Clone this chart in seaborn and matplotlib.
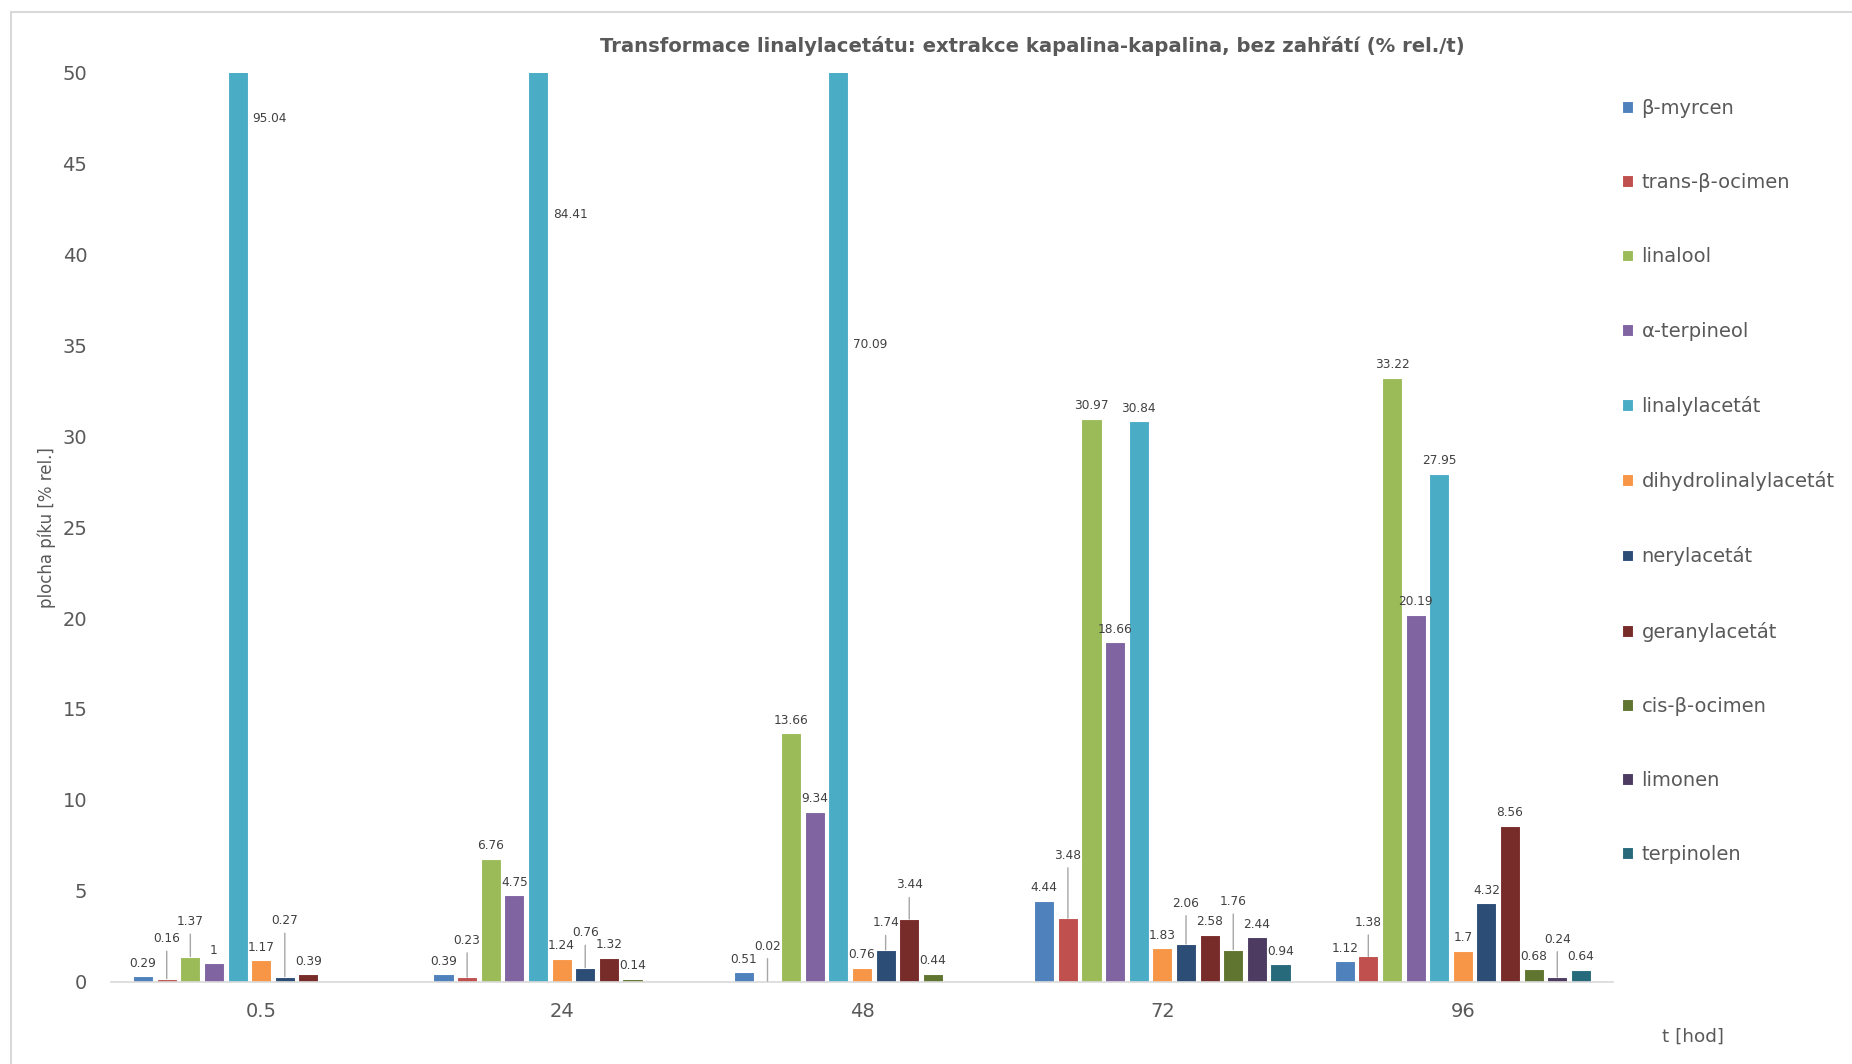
import numpy as np
import pandas as pd
import matplotlib
matplotlib.use("Agg")
import matplotlib.pyplot as plt
from matplotlib.patches import Rectangle
import seaborn as sns

# --- data -------------------------------------------------------------
times = ["0.5", "24", "48", "72", "96"]
compounds = ["β-myrcen", "trans-β-ocimen", "linalool", "α-terpineol", "linalylacetát",
             "dihydrolinalylacetát", "nerylacetát", "geranylacetát", "cis-β-ocimen",
             "limonen", "terpinolen"]

beta_myrcen = [0.29, 0.39, 0.51, 4.44, 1.12]
trans_beta_ocimen = [0.16, 0.23, 0.02, 3.48, 1.38]
linalool = [1.37, 6.76, 13.66, 30.97, 33.22]
alpha_terpineol = [1, 4.75, 9.34, 18.66, 20.19]
linalylacetat = [95.04, 84.41, 70.09, 30.84, 27.95]
dihydrolinalylacetat = [1.17, 1.24, 0.76, 1.83, 1.7]
nerylacetat = [0.27, 0.76, 1.74, 2.06, 4.32]
geranylacetat = [0.39, 1.32, 3.44, 2.58, 8.56]
cis_beta_ocimen = [np.nan, 0.14, 0.44, 1.76, 0.68]
limonen = [np.nan, np.nan, np.nan, 2.44, 0.24]
terpinolen = [np.nan, np.nan, np.nan, 0.94, 0.64]

series = [beta_myrcen, trans_beta_ocimen, linalool, alpha_terpineol, linalylacetat,
          dihydrolinalylacetat, nerylacetat, geranylacetat, cis_beta_ocimen,
          limonen, terpinolen]

colors = ["#4F81BD", "#C0504D", "#9BBB59", "#8064A2", "#4BACC6", "#F79646",
          "#2C4D75", "#772C2A", "#5F7530", "#4D3B62", "#276A7C"]

rows = []
for name, vals in zip(compounds, series):
    for t, v in zip(times, vals):
        if not np.isnan(v):
            rows.append({"t": t, "látka": name, "plocha": v})
df = pd.DataFrame(rows)

# labels lifted above crowded bars with a leader line (pixels above bar top)
leader_lift = {
    ("0.5", "trans-β-ocimen"): 40, ("0.5", "linalool"): 35, ("0.5", "nerylacetát"): 56,
    ("24", "trans-β-ocimen"): 37, ("24", "nerylacetát"): 35,
    ("48", "trans-β-ocimen"): 35, ("48", "nerylacetát"): 27, ("48", "geranylacetát"): 34,
    ("72", "trans-β-ocimen"): 63, ("72", "nerylacetát"): 41, ("72", "cis-β-ocimen"): 48,
    ("96", "trans-β-ocimen"): 34, ("96", "limonen"): 38,
}

# --- figure -----------------------------------------------------------
sns.set_style("white")
plt.rcParams["font.family"] = ["DejaVu Sans"]
DPI = 100
W, H = 1852, 1064
fig = plt.figure(figsize=(W / DPI, H / DPI), dpi=DPI)
ax = fig.add_axes([111 / W, 1 - 981.5 / H, (1613 - 111) / W, (981.5 - 73) / H])

sns.barplot(data=df, x="t", y="plocha", hue="látka", order=times, hue_order=compounds,
            palette=colors, saturation=1, width=0.865, gap=0.15, errorbar=None,
            edgecolor="white", linewidth=0.8, ax=ax)

ax.set_ylim(0, 50)
ax.set_yticks(np.arange(0, 51, 5))
ax.set_xlim(-0.5, len(times) - 0.5)
ax.tick_params(axis="both", length=0, labelsize=14, labelcolor="#595959")
ax.tick_params(axis="x", pad=15)
ax.tick_params(axis="y", pad=17)
for s in ["top", "right", "left"]:
    ax.spines[s].set_visible(False)
ax.spines["bottom"].set_color("#D9D9D9")
ax.spines["bottom"].set_linewidth(1.2)
ax.set_xlabel("")
ax.set_ylabel("")

# --- value labels -------------------------------------------------------
px2pt = 72.0 / DPI
ymax = ax.get_ylim()[1]
for name, cont in zip(compounds, ax.containers):
    for bar in cont:
        h = bar.get_height()
        if h is None or np.isnan(h):
            continue
        xc = bar.get_x() + bar.get_width() / 2
        t = times[int(round(xc))]
        txt = f"{h:g}"
        if h > ymax:
            ax.annotate(txt, xy=(bar.get_x() + bar.get_width(), h / 2),
                        xytext=(5 * px2pt, 0), textcoords="offset points",
                        ha="left", va="center", fontsize=8.7, color="#404040")
        elif (t, name) in leader_lift:
            ax.annotate(txt, xy=(xc, h), xytext=(0, leader_lift[(t, name)] * px2pt),
                        textcoords="offset points", ha="center", va="center",
                        fontsize=8.7, color="#404040",
                        arrowprops=dict(arrowstyle="-", color="#A6A6A6", lw=1.0,
                                        shrinkA=2, shrinkB=0))
        else:
            ax.annotate(txt, xy=(xc, h), xytext=(0, 13 * px2pt),
                        textcoords="offset points", ha="center", va="center",
                        fontsize=8.7, color="#404040")

# --- legend, titles ----------------------------------------------------
sns.move_legend(ax, loc="upper left", bbox_to_anchor=(1622 / W, 1 - 99 / H),
                bbox_transform=fig.transFigure, frameon=False, title=None,
                fontsize=14, labelspacing=2.84, handlelength=0.55, handleheight=0.55,
                handletextpad=0.45, borderpad=0, borderaxespad=0, labelcolor="#595959")

fig.text(1032 / W, 1 - 46 / H,
         "Transformace linalylacetátu: extrakce kapalina-kapalina, bez zahřátí (% rel./t)",
         ha="center", va="center", fontsize=14.1, fontweight="bold", color="#595959")
fig.text(47 / W, 1 - 528 / H, "plocha píku [% rel.]", rotation=90,
         ha="center", va="center", fontsize=12, color="#595959")
fig.text(1693 / W, 1 - 1037 / H, "t [hod]", ha="center", va="center",
         fontsize=13.2, color="#595959")

# chart frame
fig.patches.append(Rectangle((11 / W, -0.05), 1.2, 1.05 - 12 / H,
                             transform=fig.transFigure, fill=False,
                             edgecolor="#D9D9D9", linewidth=1.5))

fig.savefig("out.png", dpi=DPI)
